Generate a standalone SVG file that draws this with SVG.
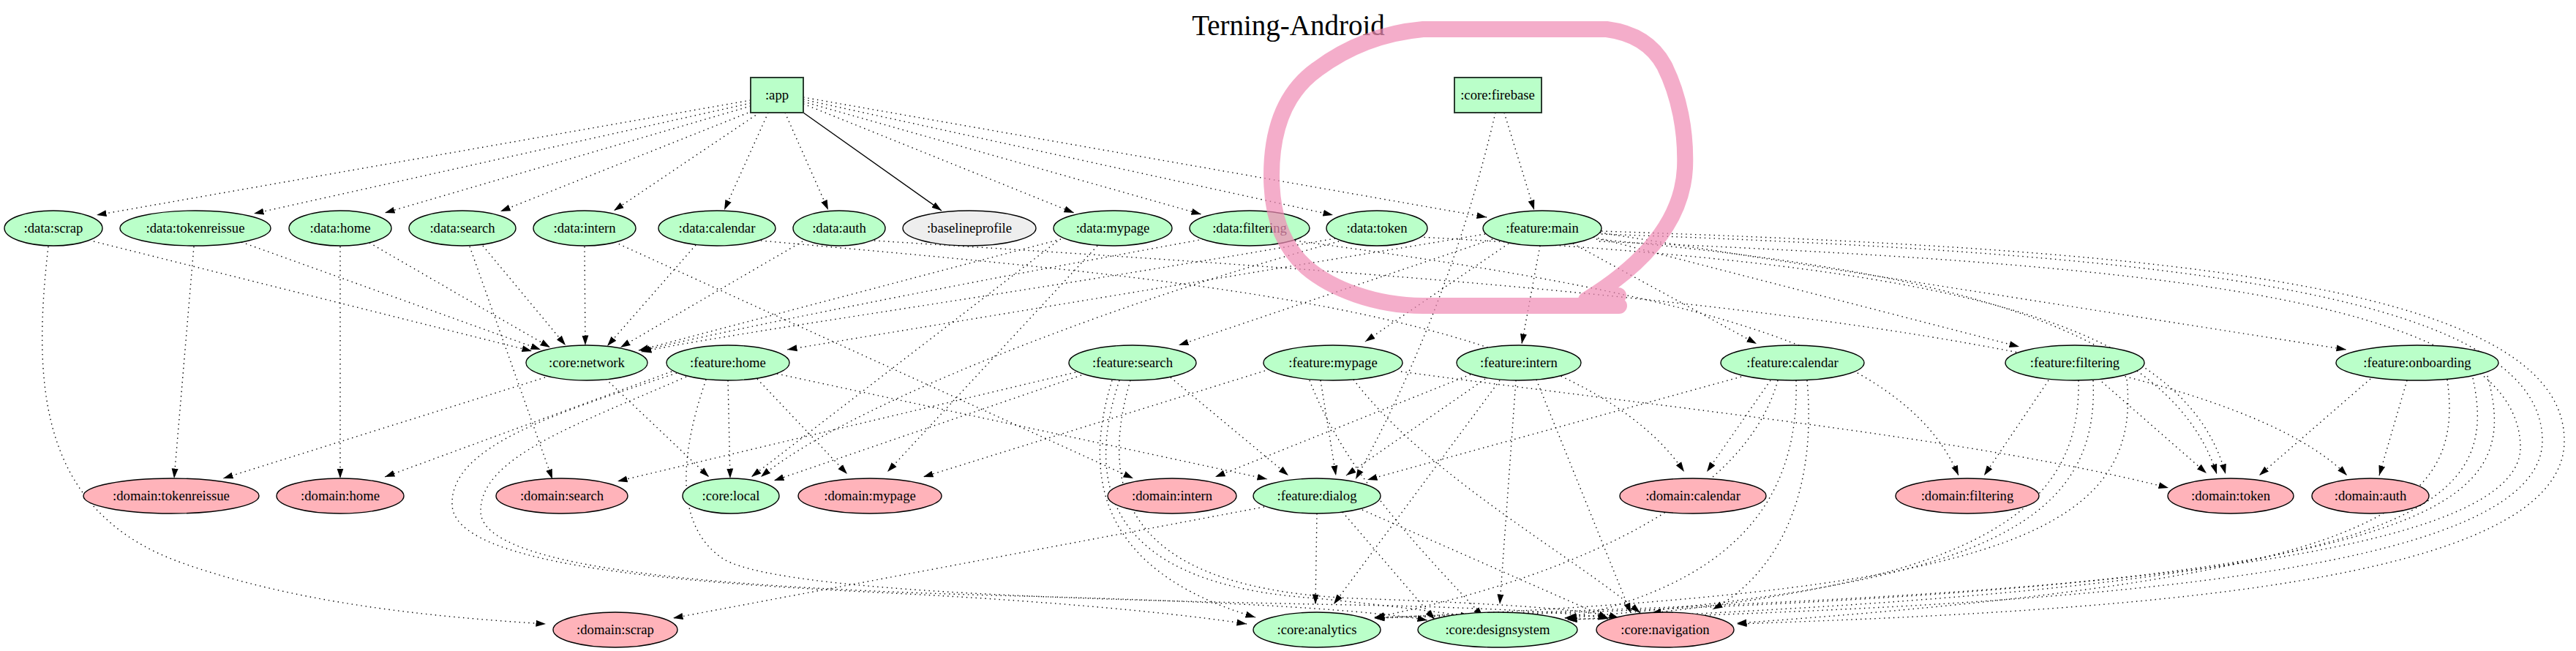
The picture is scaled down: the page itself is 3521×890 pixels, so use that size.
<svg xmlns="http://www.w3.org/2000/svg" width="3521" height="890" viewBox="0 0 3521 890">
<style>
.e{fill:none;stroke:#000;stroke-width:1.4;stroke-dasharray:1.4 5;marker-end:url(#ah)}
.s{fill:none;stroke:#000;stroke-width:1.4;marker-end:url(#ah)}
.g{fill:#baffc9;stroke:#000;stroke-width:1.4}
.p{fill:#ffb3ba;stroke:#000;stroke-width:1.4}
.w{fill:#eeeeee;stroke:#000;stroke-width:1.4}
.b{fill:#baffc9;stroke:#2b3b30;stroke-width:2}
text{font-family:"Liberation Serif","Times New Roman",serif;font-size:18.7px;text-anchor:middle;fill:#000}
.t{font-size:39px}
</style>
<defs>
<marker id="ah" viewBox="0 0 14 10" refX="13.5" refY="5" markerWidth="14" markerHeight="10" markerUnits="userSpaceOnUse" orient="auto"><path d="M0,0.5 L13.5,5 L0,9.5 z" fill="#000"/></marker>
</defs>
<rect width="3521" height="890" fill="#fff"/>
<text class="t" x="1761" y="48">Terning-Android</text>
<g id="edges">
<path class="e" d="M1026,137 L132,294"/>
<path class="e" d="M1026,141 L347,292"/>
<path class="e" d="M1026,145 L526,291"/>
<path class="e" d="M1028,152 L684,289"/>
<path class="e" d="M1038,154 L839,288"/>
<path class="e" d="M1050,154 L990,287"/>
<path class="e" d="M1073,154 L1132,287"/>
<path class="s" d="M1098,154 L1287,288"/>
<path class="e" d="M1098,142 L1468,291"/>
<path class="e" d="M1098,139 L1642,293"/>
<path class="e" d="M1098,136 L1822,294"/>
<path class="e" d="M1098,133 L2032,297"/>
<path class="e" d="M2056,154 L2097,287"/>
<path class="e" d="M2044,154 C2010,300 1950,480 1853,655"/>
<path class="e" d="M128,330 L727,480"/>
<path class="e" d="M66,337 C45,520 50,700 250,770 C420,830 620,845 746,853"/>
<path class="e" d="M265,337 L238,654"/>
<path class="e" d="M330,331 L739,478"/>
<path class="e" d="M465,337 L465,654"/>
<path class="e" d="M505,332 L752,475"/>
<path class="e" d="M642,337 L755,655"/>
<path class="e" d="M660,336 L773,472"/>
<path class="e" d="M799,337 L800,472"/>
<path class="e" d="M840,331 L1549,654"/>
<path class="e" d="M951,335 L830,473"/>
<path class="e" d="M1040,329 C1600,380 2150,420 2302,645"/>
<path class="e" d="M1097,330 L848,475"/>
<path class="e" d="M1195,329 C2000,380 3000,440 3208,650"/>
<path class="e" d="M1450,327 L873,479"/>
<path class="e" d="M1500,336 L1213,645"/>
<path class="e" d="M1645,327 C1300,390 1000,450 875,480"/>
<path class="e" d="M1770,329 C2300,400 2600,470 2677,650"/>
<path class="e" d="M1825,326 C1400,400 1000,455 877,481"/>
<path class="e" d="M1940,324 C2600,360 2980,420 3042,648"/>
<path class="e" d="M745,516 L305,654"/>
<path class="e" d="M828,518 L969,652"/>
<path class="e" d="M1830,330 C1500,420 1150,560 1040,652"/>
<path class="e" d="M1445,330 L1027,652"/>
<path class="e" d="M2030,320 L1076,478"/>
<path class="e" d="M2040,327 L1611,472"/>
<path class="e" d="M2062,333 L1866,467"/>
<path class="e" d="M2105,336 L2080,470"/>
<path class="e" d="M2150,333 L2401,470"/>
<path class="e" d="M2178,324 L2760,474"/>
<path class="e" d="M2187,318 L3207,478"/>
<path class="e" d="M2182,327 C2600,365 2960,430 3030,648"/>
<path class="e" d="M2189,316 C2900,340 3500,380 3505,600 C3510,800 2900,835 2374,853"/>
<path class="e" d="M2189,320 C2900,345 3470,390 3475,600 C3480,790 2800,828 2142,847"/>
<path class="e" d="M2186,330 C2900,360 3440,400 3445,610 C3450,790 2600,822 1879,844"/>
<path class="e" d="M995,520 L998,654"/>
<path class="e" d="M1035,518 L1158,648"/>
<path class="e" d="M918,508 L526,652"/>
<path class="e" d="M1062,511 L1732,655"/>
<path class="e" d="M925,510 C760,565 615,610 618,690 C620,770 900,795 1200,810 C1450,822 1620,840 1704,853"/>
<path class="e" d="M938,515 C790,580 655,625 657,700 C660,780 1000,805 1400,815 C1700,823 1880,835 1951,848"/>
<path class="e" d="M965,519 C930,620 920,720 990,765 C1080,815 1600,822 1900,828 C2050,832 2160,838 2198,846"/>
<path class="e" d="M1470,509 L844,658"/>
<path class="e" d="M1478,513 L1058,657"/>
<path class="e" d="M1600,516 L1761,650"/>
<path class="e" d="M1520,520 C1480,650 1500,780 1716,844"/>
<path class="e" d="M1530,520 C1480,670 1520,800 1800,818 C1900,828 1960,836 2010,843"/>
<path class="e" d="M1545,520 C1495,690 1560,805 1850,818 C2050,825 2170,833 2213,845"/>
<path class="e" d="M1735,505 L1262,652"/>
<path class="e" d="M1915,508 C2300,560 2700,600 2964,667"/>
<path class="e" d="M1805,520 L1826,650"/>
<path class="e" d="M1790,520 C1840,650 1950,760 2027,843"/>
<path class="e" d="M1850,519 C1950,650 2150,760 2242,838"/>
<path class="e" d="M2010,512 L1661,652"/>
<path class="e" d="M2030,518 L1840,650"/>
<path class="e" d="M2050,520 L1823,826"/>
<path class="e" d="M2072,520 L2050,826"/>
<path class="e" d="M2100,519 L2229,838"/>
<path class="e" d="M2420,520 L2333,645"/>
<path class="e" d="M2380,515 L1869,656"/>
<path class="e" d="M2430,520 C2380,700 2100,800 1879,844"/>
<path class="e" d="M2455,520 C2460,700 2350,800 2142,845"/>
<path class="e" d="M2470,520 C2485,690 2420,790 2341,833"/>
<path class="e" d="M2800,520 L2712,650"/>
<path class="e" d="M2873,522 L3016,647"/>
<path class="e" d="M2841,520 C2845,700 2700,790 2257,838"/>
<path class="e" d="M2861,520 C2870,720 2700,800 2138,845"/>
<path class="e" d="M2907,519 C2930,740 2700,810 1878,845"/>
<path class="e" d="M3240,518 L3088,650"/>
<path class="e" d="M3290,520 L3252,650"/>
<path class="e" d="M3345,519 C3370,700 3250,790 2374,852"/>
<path class="e" d="M3380,517 C3420,700 3300,800 2142,847"/>
<path class="e" d="M3400,514 C3450,700 3350,810 1879,845"/>
<path class="e" d="M1800,702 L1798,826"/>
<path class="e" d="M1835,700 L1961,847"/>
<path class="e" d="M1862,697 L2198,845"/>
<path class="e" d="M1728,693 L920,845"/>
</g>
<g id="n-app"><rect class="b" x="1026" y="106" width="72" height="48"/><text x="1062" y="136">:app</text></g>
<g id="n-core-firebase"><rect class="b" x="1988" y="106" width="119" height="48"/><text x="2047" y="136">:core:firebase</text></g>
<g id="n-data-scrap"><ellipse class="g" cx="73" cy="312" rx="67" ry="24"/><text x="73" y="318">:data:scrap</text></g>
<g id="n-data-tokenreissue"><ellipse class="g" cx="267" cy="312" rx="103" ry="24"/><text x="267" y="318">:data:tokenreissue</text></g>
<g id="n-data-home"><ellipse class="g" cx="465" cy="312" rx="70" ry="24"/><text x="465" y="318">:data:home</text></g>
<g id="n-data-search"><ellipse class="g" cx="632" cy="312" rx="73" ry="24"/><text x="632" y="318">:data:search</text></g>
<g id="n-data-intern"><ellipse class="g" cx="799" cy="312" rx="70" ry="24"/><text x="799" y="318">:data:intern</text></g>
<g id="n-data-calendar"><ellipse class="g" cx="980" cy="312" rx="80" ry="24"/><text x="980" y="318">:data:calendar</text></g>
<g id="n-data-auth"><ellipse class="g" cx="1147" cy="312" rx="63" ry="24"/><text x="1147" y="318">:data:auth</text></g>
<g id="n-baselineprofile"><ellipse class="w" cx="1325" cy="312" rx="91" ry="24"/><text x="1325" y="318">:baselineprofile</text></g>
<g id="n-data-mypage"><ellipse class="g" cx="1521" cy="312" rx="81" ry="24"/><text x="1521" y="318">:data:mypage</text></g>
<g id="n-data-filtering"><ellipse class="g" cx="1708" cy="312" rx="82" ry="24"/><text x="1708" y="318">:data:filtering</text></g>
<g id="n-data-token"><ellipse class="g" cx="1882" cy="312" rx="69" ry="24"/><text x="1882" y="318">:data:token</text></g>
<g id="n-feature-main"><ellipse class="g" cx="2108" cy="312" rx="81" ry="24"/><text x="2108" y="318">:feature:main</text></g>
<g id="n-core-network"><ellipse class="g" cx="802" cy="496" rx="83" ry="24"/><text x="802" y="502">:core:network</text></g>
<g id="n-feature-home"><ellipse class="g" cx="995" cy="496" rx="84" ry="24"/><text x="995" y="502">:feature:home</text></g>
<g id="n-feature-search"><ellipse class="g" cx="1548" cy="496" rx="87" ry="24"/><text x="1548" y="502">:feature:search</text></g>
<g id="n-feature-mypage"><ellipse class="g" cx="1822" cy="496" rx="95" ry="24"/><text x="1822" y="502">:feature:mypage</text></g>
<g id="n-feature-intern"><ellipse class="g" cx="2076" cy="496" rx="85" ry="24"/><text x="2076" y="502">:feature:intern</text></g>
<g id="n-feature-calendar"><ellipse class="g" cx="2450" cy="496" rx="98" ry="24"/><text x="2450" y="502">:feature:calendar</text></g>
<g id="n-feature-filtering"><ellipse class="g" cx="2836" cy="496" rx="95" ry="24"/><text x="2836" y="502">:feature:filtering</text></g>
<g id="n-feature-onboarding"><ellipse class="g" cx="3304" cy="496" rx="111" ry="24"/><text x="3304" y="502">:feature:onboarding</text></g>
<g id="n-domain-tokenreissue"><ellipse class="p" cx="234" cy="678" rx="120" ry="24"/><text x="234" y="684">:domain:tokenreissue</text></g>
<g id="n-domain-home"><ellipse class="p" cx="465" cy="678" rx="87" ry="24"/><text x="465" y="684">:domain:home</text></g>
<g id="n-domain-search"><ellipse class="p" cx="768" cy="678" rx="90" ry="24"/><text x="768" y="684">:domain:search</text></g>
<g id="n-core-local"><ellipse class="g" cx="999" cy="678" rx="66" ry="24"/><text x="999" y="684">:core:local</text></g>
<g id="n-domain-mypage"><ellipse class="p" cx="1189" cy="678" rx="98" ry="24"/><text x="1189" y="684">:domain:mypage</text></g>
<g id="n-domain-intern"><ellipse class="p" cx="1602" cy="678" rx="88" ry="24"/><text x="1602" y="684">:domain:intern</text></g>
<g id="n-feature-dialog"><ellipse class="g" cx="1800" cy="678" rx="87" ry="24"/><text x="1800" y="684">:feature:dialog</text></g>
<g id="n-domain-calendar"><ellipse class="p" cx="2314" cy="678" rx="100" ry="24"/><text x="2314" y="684">:domain:calendar</text></g>
<g id="n-domain-filtering"><ellipse class="p" cx="2689" cy="678" rx="98" ry="24"/><text x="2689" y="684">:domain:filtering</text></g>
<g id="n-domain-token"><ellipse class="p" cx="3049" cy="678" rx="86" ry="24"/><text x="3049" y="684">:domain:token</text></g>
<g id="n-domain-auth"><ellipse class="p" cx="3240" cy="678" rx="80" ry="24"/><text x="3240" y="684">:domain:auth</text></g>
<g id="n-domain-scrap"><ellipse class="p" cx="841" cy="861" rx="85" ry="24"/><text x="841" y="867">:domain:scrap</text></g>
<g id="n-core-analytics"><ellipse class="g" cx="1800" cy="861" rx="87" ry="24"/><text x="1800" y="867">:core:analytics</text></g>
<g id="n-core-designsystem"><ellipse class="g" cx="2047" cy="861" rx="109" ry="24"/><text x="2047" y="867">:core:designsystem</text></g>
<g id="n-core-navigation"><ellipse class="p" cx="2276" cy="861" rx="94" ry="24"/><text x="2276" y="867">:core:navigation</text></g>
<path id="highlight" d="M2213,418 L1945,418 C1880,418 1820,395 1785,365 C1748,332 1738,285 1738,240 C1738,175 1758,125 1800,95 C1840,65 1890,45 1945,40 L2196,40 C2235,45 2260,62 2275,90 C2295,130 2305,180 2303,230 C2300,290 2262,352 2168,410 L2212,404" fill="none" stroke="#f08db5" stroke-opacity="0.72" stroke-width="22" stroke-linecap="round" stroke-linejoin="round"/>
</svg>
